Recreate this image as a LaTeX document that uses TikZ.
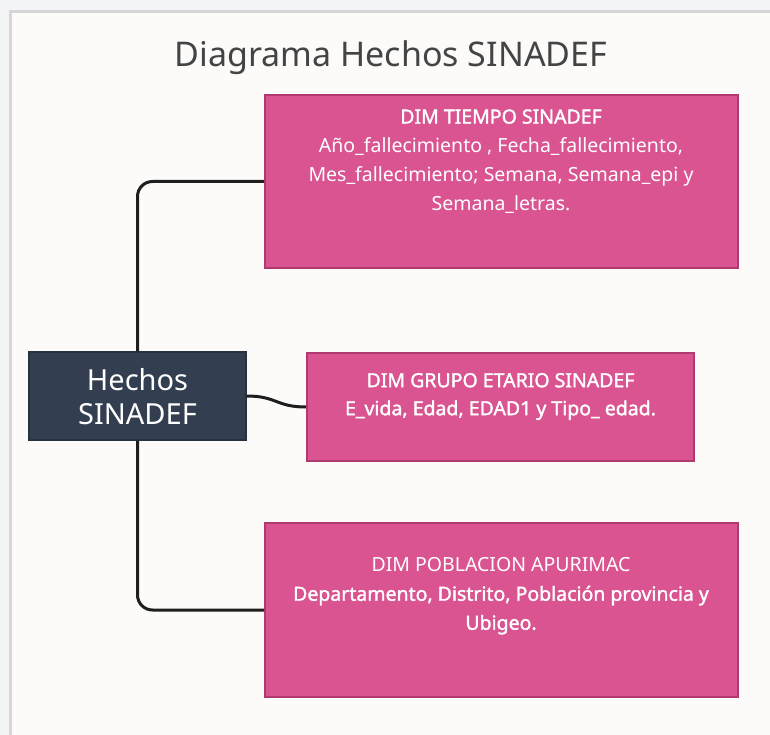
\documentclass[tikz,border=0pt]{standalone}
\usepackage{fontspec}
\setmainfont{Noto Sans}[BoldFont={Noto Sans},BoldFeatures={FakeBold=1.6}]
\usetikzlibrary{positioning}

\begin{document}
\begin{tikzpicture}[%
        % one unit is one pixel of the reference, y grows downwards
        x=1pt,y=-1pt,
        hechosbox/.style={draw=hechosline,fill=hechoscolor,line width=1.5pt,rectangle,inner sep=0pt},
        dimbox/.style={draw=dimline,fill=dimcolor,line width=2pt,rectangle,inner sep=0pt},
        dimtext/.style={text=white,align=center,font=\fontsize{19.5}{29}\selectfont},
        link/.style={draw=linkcolor,line width=3pt}
        ]

        \definecolor{pagecolor}{RGB}{243, 244, 246}
        \definecolor{framecolor}{RGB}{214, 214, 216}
        \definecolor{boardcolor}{RGB}{252, 251, 250}
        \definecolor{hechoscolor}{RGB}{51, 63, 81}
        \definecolor{hechosline}{RGB}{40, 49, 64}
        \definecolor{dimcolor}{RGB}{217, 84, 144}
        \definecolor{dimline}{RGB}{176, 57, 109}
        \definecolor{linkcolor}{RGB}{30, 30, 30}
        \definecolor{titlecolor}{RGB}{68, 68, 68}

        % page and board
        \useasboundingbox (0,0) rectangle (770,735);
        \clip (0,0) rectangle (770,735);
        \fill[pagecolor] (0,0) rectangle (770,735);
        \draw[framecolor,line width=3pt,fill=boardcolor] (10,12) rectangle (800,770);

        % title
        \node[text=titlecolor,font=\fontsize{34}{40}\selectfont] (title) at (391,58) {Diagrama Hechos SINADEF};

        % boxes
        \node[hechosbox,minimum width=217,minimum height=88] (hechos) at (137.5,396) {};
        \node[dimbox,minimum width=473,minimum height=173] (tiempo) at (501.5,181.5) {};
        \node[dimbox,minimum width=387,minimum height=108] (grupo) at (500.5,407) {};
        \node[dimbox,minimum width=473,minimum height=174] (poblacion) at (501.5,610) {};

        % texts
        \node[text=white,align=center,font=\fontsize{29}{34}\selectfont] (hechostext) at (137.5,397) {Hechos\\SINADEF};
        \node[dimtext] (tiempotext) at (501,161.5) {\textbf{DIM TIEMPO SINADEF}\\Año\_fallecimiento , Fecha\_fallecimiento,\\Mes\_fallecimiento; Semana, Semana\_epi y\\Semana\_letras.};
        \node[dimtext,font=\bfseries\fontsize{19.5}{28}\selectfont] (grupotext) at (500.5,396.5) {DIM GRUPO ETARIO SINADEF\\E\_vida, Edad, EDAD1 y Tipo\_ edad.};
        \node[dimtext] (poblaciontext) at (501,596) {DIM POBLACION APURIMAC\\\textbf{Departamento, Distrito, Población provincia y}\\\textbf{Ubigeo.}};

        % links
        \draw[link,rounded corners=15] (hechos.north) |- (tiempo.west);
        \draw[link,rounded corners=15] (hechos.south) |- (poblacion.west);
        \draw[link] (hechos.east) .. controls +(30,0) and +(-30,0) .. (grupo.west);

    \end{tikzpicture}
\end{document}
